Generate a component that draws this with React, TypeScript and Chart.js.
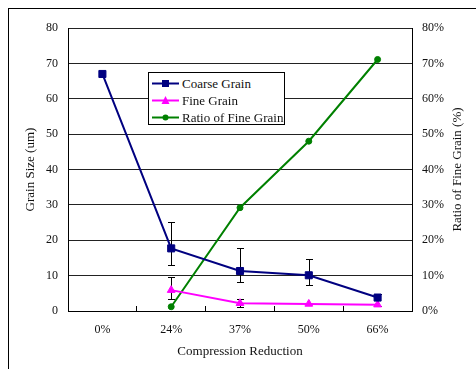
import React, { useEffect, useRef } from 'react';
import { Chart, registerables } from 'chart.js';

Chart.register(...registerables);

const categories = ['0%', '24%', '37%', '50%', '66%'];
const coarseGrain = [67, 17.7, 11.3, 10.1, 3.8];
const coarseErrHigh = [null, 25.3, 17.7, 14.6, 4.8];
const coarseErrLow = [null, 13.0, 8.3, 7.3, 1.5];
const fineGrain = [null, 5.9, 2.2, 2.0, 1.8];
const fineErrHigh = [null, 9.5, 3.4, null, null];
const fineErrLow = [null, 3.3, 1.2, null, null];
const fineRatio = [null, 1.2, 29.2, 48, 71.1];

const axisMin = 0;
const axisMax = 80;
const axisStep = 10;

const FONT = "'Liberation Serif', 'Times New Roman', serif";
const TEXT = '#111';

const errorBarPlugin = {
  id: 'errorBars',
  beforeDatasetsDraw(chart: any, _args: any, opts: any) {
    const ctx = chart.ctx;
    ctx.save();
    ctx.strokeStyle = '#000';
    ctx.lineWidth = 1;
    (opts.series || []).forEach((s: any) => {
      const meta = chart.getDatasetMeta(s.datasetIndex);
      const yScale = chart.scales[meta.yAxisID];
      s.high.forEach((hi: number | null, j: number) => {
        const lo = s.low[j];
        if (hi == null || lo == null) return;
        const pt = meta.data[j];
        if (!pt) return;
        const x = Math.round(pt.x) + 0.5;
        const yT = Math.round(yScale.getPixelForValue(hi)) + 0.5;
        const yB = Math.round(yScale.getPixelForValue(lo)) + 0.5;
        ctx.beginPath();
        ctx.moveTo(x, yT);
        ctx.lineTo(x, yB);
        ctx.moveTo(x - 3.5, yT);
        ctx.lineTo(x + 3.5, yT);
        ctx.moveTo(x - 3.5, yB);
        ctx.lineTo(x + 3.5, yB);
        ctx.stroke();
      });
    });
    ctx.restore();
  },
};

const rightTitlePlugin = {
  id: 'rightTitle',
  afterDraw(chart: any, _args: any, opts: any) {
    const ctx = chart.ctx;
    const sc = chart.scales.y1;
    const area = chart.chartArea;
    ctx.save();
    ctx.translate(sc.right - 18, (area.top + area.bottom) / 2);
    ctx.rotate(-Math.PI / 2);
    ctx.font = `13px ${FONT}`;
    ctx.fillStyle = TEXT;
    ctx.textAlign = 'center';
    ctx.textBaseline = 'middle';
    ctx.fillText(opts.text, 0, 0);
    ctx.restore();
  },
};

function LegendRow({ top, color, marker, label }: { top: number; color: string; marker: string; label: string }) {
  let m: React.ReactNode = null;
  if (marker === 'rect') m = <rect x={10} y={2} width={7} height={7} fill={color} />;
  if (marker === 'triangle') m = <polygon points="13.5,1 17.5,9 9.5,9" fill={color} />;
  if (marker === 'circle') m = <circle cx={13.5} cy={5.5} r={3} fill={color} />;
  return (
    <div style={{ position: 'absolute', left: 3, top, height: 17, display: 'flex', alignItems: 'center', whiteSpace: 'nowrap' }}>
      <svg width={27} height={11} style={{ display: 'block' }}>
        <line x1={0} y1={5.5} x2={27} y2={5.5} stroke={color} strokeWidth={2} />
        {m}
      </svg>
      <span style={{ marginLeft: 3, font: `13px ${FONT}`, color: TEXT }}>{label}</span>
    </div>
  );
}

export default function App() {
  const ref = useRef<HTMLCanvasElement>(null);
  useEffect(() => {
    if (!ref.current) return;
    const tickFont = { family: FONT, size: 12 };
    const titleFont = { family: FONT, size: 13 };
    const chart = new Chart(ref.current, {
      type: 'line',
      data: {
        labels: categories,
        datasets: [
          {
            label: 'Coarse Grain',
            data: coarseGrain,
            yAxisID: 'y',
            borderColor: '#000080',
            backgroundColor: '#000080',
            borderWidth: 2,
            pointStyle: 'rect',
            pointRadius: 5,
            pointBorderWidth: 1,
            tension: 0,
          },
          {
            label: 'Fine Grain',
            data: fineGrain,
            yAxisID: 'y',
            borderColor: '#ff00ff',
            backgroundColor: '#ff00ff',
            borderWidth: 2,
            pointStyle: 'triangle',
            pointRadius: 4.5,
            pointBorderWidth: 1,
            tension: 0,
          },
          {
            label: 'Ratio of Fine Grain',
            data: fineRatio,
            yAxisID: 'y1',
            borderColor: '#008000',
            backgroundColor: '#008000',
            borderWidth: 2,
            pointStyle: 'circle',
            pointRadius: 3,
            pointBorderWidth: 1,
            tension: 0,
          },
        ],
      },
      options: {
        responsive: false,
        animation: false,
        layout: { padding: { top: 19, left: 0, right: 0, bottom: 0 } },
        plugins: {
          legend: { display: false },
          tooltip: { enabled: false },
          errorBars: {
            series: [
              { datasetIndex: 0, high: coarseErrHigh, low: coarseErrLow },
              { datasetIndex: 1, high: fineErrHigh, low: fineErrLow },
            ],
          },
          rightTitle: { text: 'Ratio of Fine Grain (%)' },
        } as any,
        scales: {
          x: {
            type: 'category',
            offset: true,
            grid: { offset: true, drawOnChartArea: false, drawTicks: true, tickLength: -5, color: '#000' },
            border: { display: true, color: '#000', width: 1 },
            ticks: { padding: 17, font: tickFont, color: TEXT, maxRotation: 0 },
            title: { display: true, text: 'Compression Reduction', font: titleFont, color: TEXT, padding: { top: 0, bottom: 2 } },
            afterFit: (s: any) => { s.height = 50; },
          },
          y: {
            position: 'left',
            min: axisMin,
            max: axisMax,
            ticks: { stepSize: axisStep, padding: 10, font: tickFont, color: TEXT },
            grid: { color: '#222', drawTicks: false },
            border: { display: true, color: '#000', width: 1 },
            title: { display: true, text: 'Grain Size (um)', font: titleFont, color: TEXT, padding: { top: 14, bottom: 0 } },
            afterFit: (s: any) => { s.width = 59; },
          },
          y1: {
            position: 'right',
            min: axisMin,
            max: axisMax,
            ticks: { stepSize: axisStep, padding: 10, font: tickFont, color: TEXT, callback: (v: any) => v + '%' },
            grid: { drawOnChartArea: false, drawTicks: false },
            border: { display: true, color: '#000', width: 1 },
            afterFit: (s: any) => { s.width = 64; },
          },
        },
      } as any,
      plugins: [errorBarPlugin, rightTitlePlugin],
    });
    return () => chart.destroy();
  }, []);

  return (
    <div style={{ position: 'fixed', left: 8, top: 8, width: 467, height: 361, borderTop: '1px solid #000', borderLeft: '1px solid #000' }}>
      <canvas ref={ref} width={467} height={352} style={{ position: 'absolute', left: 0, top: 0, width: 467, height: 352 }} />
      <div style={{ position: 'absolute', left: 139, top: 63, width: 135, height: 51, border: '1px solid #000', background: '#fff' }}>
        <LegendRow top={2} color="#000080" marker="rect" label="Coarse Grain" />
        <LegendRow top={19} color="#ff00ff" marker="triangle" label="Fine Grain" />
        <LegendRow top={36} color="#008000" marker="circle" label="Ratio of Fine Grain" />
      </div>
    </div>
  );
}
